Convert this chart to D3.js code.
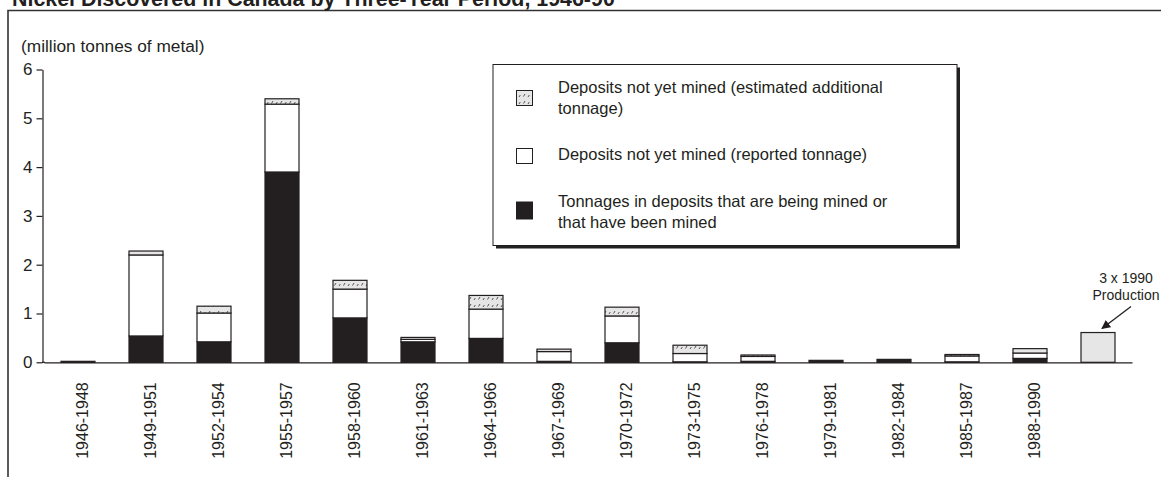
<!DOCTYPE html>
<html>
<head>
<meta charset="utf-8">
<script src="https://cdn.jsdelivr.net/npm/d3@7"></script>
<style>
  body { margin: 0; background: #fff; }
  text { font-family: "Liberation Sans", Arial, sans-serif; fill: #231f20; }
</style>
</head>
<body>
<script>
// ---------- data ----------
const periods = ["1946-1948","1949-1951","1952-1954","1955-1957","1958-1960","1961-1963",
  "1964-1966","1967-1969","1970-1972","1973-1975","1976-1978","1979-1981","1982-1984",
  "1985-1987","1988-1990"];
const mined     = [0.02, 0.54, 0.42, 3.90, 0.91, 0.42, 0.49, 0.02, 0.40, 0.01, 0.02, 0.04, 0.06, 0.01, 0.08];
const reported  = [0.00, 1.66, 0.59, 1.39, 0.59, 0.05, 0.60, 0.20, 0.55, 0.17, 0.10, 0.00, 0.00, 0.12, 0.11];
const estimated = [0.00, 0.08, 0.14, 0.11, 0.18, 0.04, 0.28, 0.05, 0.18, 0.17, 0.03, 0.00, 0.00, 0.03, 0.09];
const productionKey = "prod";
const productionValue = 0.61;
const productionLabel = ["3 x 1990", "Production"];
const yTicks = [0, 1, 2, 3, 4, 5, 6];
const title = "Nickel Discovered in Canada by Three-Year Period, 1946-90";
const yLabel = "(million tonnes of metal)";
const legendItems = [
  { key: "estimated", lines: ["Deposits not yet mined (estimated additional", "tonnage)"] },
  { key: "reported",  lines: ["Deposits not yet mined (reported tonnage)"] },
  { key: "mined",     lines: ["Tonnages in deposits that are being mined or", "that have been mined"] }
];

// ---------- setup ----------
const W = 1161, H = 477;
const ink = "#231f20";
const svg = d3.select("body").append("svg").attr("width", W).attr("height", H);

const defs = svg.append("defs");
const pat = defs.append("pattern").attr("id", "hatch").attr("patternUnits", "userSpaceOnUse")
  .attr("width", 9).attr("height", 7);
pat.append("rect").attr("width", 9).attr("height", 7).attr("fill", "#e6e6e6");
pat.append("path").attr("d", "M1.5,5.5 L3,3 M6,6 L7.3,4").attr("stroke", "#555").attr("stroke-width", 1);

defs.append("marker").attr("id", "arrow").attr("viewBox", "0 0 10 10")
  .attr("refX", 9).attr("refY", 5).attr("markerWidth", 9).attr("markerHeight", 9)
  .attr("markerUnits", "userSpaceOnUse").attr("orient", "auto")
  .append("path").attr("d", "M0,0 L10,5 L0,10 z").attr("fill", ink);

// frame
svg.append("path").attr("d", `M8,${H} V10.5 H${W}`).attr("fill", "none")
  .attr("stroke", "#333").attr("stroke-width", 1.6);

// title
svg.append("text").attr("x", 12).attr("y", 6).attr("font-weight", "bold")
  .attr("font-size", 21.4).text(title);

// scales
const x = d3.scaleBand().domain(periods.concat([productionKey]))
  .range([44, 1132]).paddingInner(0.5).paddingOuter(0.25);
const y = d3.scaleLinear().domain([0, 6]).range([362.3, 69.5]);

// y axis
const yAxis = svg.append("g").attr("transform", "translate(42.5,0)")
  .call(d3.axisLeft(y).tickValues(yTicks).tickFormat(d3.format("d"))
    .tickSize(6).tickSizeOuter(0).tickPadding(4));
yAxis.selectAll("path, line").attr("stroke", ink).attr("stroke-width", 1.2);
yAxis.selectAll("text").attr("font-size", 17).attr("font-family", "Liberation Sans, Arial, sans-serif").attr("fill", ink);

svg.append("text").attr("x", 21).attr("y", 52).attr("font-size", 17.3).text(yLabel);

// stacked bars
const rows = periods.map((p, i) => ({ period: p, mined: mined[i], reported: reported[i], estimated: estimated[i] }));
const keys = ["mined", "reported", "estimated"];
const stack = d3.stack().keys(keys)(rows);
const fills = { mined: ink, reported: "#fff", estimated: "url(#hatch)" };

stack.forEach(layer => {
  svg.append("g").selectAll("rect").data(layer.filter(d => d[1] - d[0] > 0)).join("rect")
    .attr("x", d => x(d.data.period))
    .attr("width", x.bandwidth())
    .attr("y", d => y(d[1]))
    .attr("height", d => y(d[0]) - y(d[1]))
    .attr("fill", fills[layer.key])
    .attr("stroke", ink)
    .attr("stroke-width", 1.2);
});

// production bar
svg.append("rect")
  .attr("x", x(productionKey)).attr("width", x.bandwidth())
  .attr("y", y(productionValue)).attr("height", y(0) - y(productionValue))
  .attr("fill", "#e6e6e6").attr("stroke", ink).attr("stroke-width", 1.2);

const pc = x(productionKey) + x.bandwidth() / 2;
svg.append("line")
  .attr("x1", pc + 33).attr("y1", y(productionValue) - 26)
  .attr("x2", pc + 4).attr("y2", y(productionValue) - 4)
  .attr("stroke", ink).attr("stroke-width", 1.3).attr("marker-end", "url(#arrow)");
svg.append("text").attr("x", pc + 28).attr("y", y(productionValue) - 50)
  .attr("text-anchor", "middle").attr("font-size", 14)
  .selectAll("tspan").data(productionLabel).join("tspan")
  .attr("x", pc + 28).attr("dy", (d, i) => i === 0 ? 0 : 17).text(d => d);

// x axis
const xAxis = svg.append("g").attr("transform", `translate(0,${y(0)})`)
  .call(d3.axisBottom(x).tickSize(0).tickSizeOuter(0).tickFormat(d => d === productionKey ? "" : d));
xAxis.select(".domain").attr("stroke", ink).attr("stroke-width", 1.2);
xAxis.selectAll("text")
  .attr("font-size", 16).attr("font-family", "Liberation Sans, Arial, sans-serif").attr("fill", ink)
  .attr("text-anchor", "end")
  .attr("transform", "rotate(-90)")
  .attr("x", -20).attr("y", 4).attr("dy", "0.35em");
// extend baseline to y axis
svg.append("line").attr("x1", 42).attr("x2", 45).attr("y1", y(0)).attr("y2", y(0))
  .attr("stroke", ink).attr("stroke-width", 1.2);

// legend
const lg = svg.append("g");
lg.append("rect").attr("x", 496).attr("y", 67.5).attr("width", 464).attr("height", 181).attr("fill", "#222");
lg.append("rect").attr("x", 493).attr("y", 64.5).attr("width", 464).attr("height", 181)
  .attr("fill", "#fff").attr("stroke", ink).attr("stroke-width", 1);
const rowTop = [93, 160, 207];
const swatchY = [90.5, 148.5, 202];
legendItems.forEach((it, i) => {
  lg.append("rect").attr("x", 516.5).attr("y", swatchY[i]).attr("width", 16).attr("height", it.key === "mined" ? 17 : 15)
    .attr("fill", fills[it.key]).attr("stroke", ink).attr("stroke-width", 1);
  lg.append("text").attr("font-size", 16.5)
    .selectAll("tspan").data(it.lines).join("tspan")
    .attr("x", 558).attr("y", (d, j) => rowTop[i] + j * 21).text(d => d);
});
</script>
</body>
</html>
